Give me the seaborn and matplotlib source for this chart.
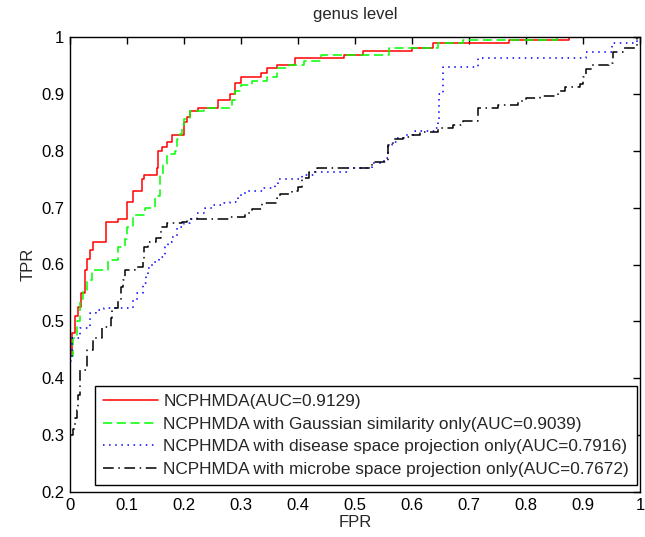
import matplotlib
matplotlib.use("Agg")
import matplotlib.pyplot as plt
import seaborn as sns
import pandas as pd

# ---- data (FPR at which TPR steps up to the given value) ----
red_fpr = [0.0, 0.004, 0.008, 0.014, 0.02, 0.026, 0.03, 0.035, 0.04, 0.063, 0.085, 0.1, 0.11,
           0.126, 0.13, 0.152, 0.155, 0.161, 0.17, 0.179, 0.2, 0.205, 0.21, 0.225, 0.26, 0.28,
           0.29, 0.3, 0.335, 0.345, 0.363, 0.395, 0.48, 0.514, 0.6, 0.637, 0.77, 0.875, 1.0]
red_tpr = [0.44, 0.48, 0.51, 0.525, 0.55, 0.59, 0.61, 0.625, 0.64, 0.675, 0.68, 0.71, 0.73,
           0.75, 0.757, 0.77, 0.80, 0.807, 0.815, 0.828, 0.85, 0.86, 0.87, 0.876, 0.89, 0.9,
           0.92, 0.93, 0.937, 0.945, 0.95, 0.963, 0.968, 0.975, 0.98, 0.99, 0.995, 1.0, 1.0]

green_fpr = [0.0, 0.005, 0.012, 0.017, 0.023, 0.03, 0.038, 0.067, 0.084, 0.096, 0.1, 0.11,
             0.132, 0.149, 0.158, 0.163, 0.17, 0.184, 0.188, 0.193, 0.196, 0.2, 0.21, 0.235,
             0.285, 0.29, 0.3, 0.32, 0.345, 0.363, 0.385, 0.41, 0.44, 0.56, 0.645, 0.69,
             0.855, 1.0]
green_tpr = [0.44, 0.47, 0.5, 0.54, 0.555, 0.573, 0.59, 0.608, 0.63, 0.645, 0.666, 0.687,
             0.70, 0.72, 0.76, 0.775, 0.795, 0.80, 0.82, 0.83, 0.845, 0.855, 0.87, 0.875,
             0.89, 0.905, 0.915, 0.923, 0.93, 0.945, 0.95, 0.958, 0.968, 0.98, 0.99, 0.995,
             1.0, 1.0]

blue_fpr = [0.0, 0.003, 0.017, 0.035, 0.045, 0.06, 0.11, 0.117, 0.128, 0.133, 0.137, 0.144,
            0.157, 0.167, 0.172, 0.179, 0.188, 0.2, 0.21, 0.222, 0.237, 0.25, 0.27, 0.28,
            0.295, 0.3, 0.31, 0.34, 0.36, 0.365, 0.407, 0.43, 0.486, 0.53, 0.55, 0.558,
            0.565, 0.574, 0.59, 0.605, 0.64, 0.645, 0.648, 0.654, 0.716, 0.905, 0.95, 0.995, 1.0]
blue_tpr = [0.43, 0.47, 0.488, 0.515, 0.52, 0.523, 0.537, 0.55, 0.567, 0.58, 0.594, 0.605,
            0.613, 0.63, 0.64, 0.648, 0.666, 0.673, 0.68, 0.69, 0.70, 0.705, 0.708, 0.71,
            0.72, 0.726, 0.73, 0.735, 0.74, 0.75, 0.757, 0.763, 0.77, 0.778, 0.788, 0.81,
            0.815, 0.822, 0.828, 0.835, 0.84, 0.855, 0.9, 0.947, 0.963, 0.974, 0.99, 1.0, 1.0]

black_fpr = [0.0, 0.005, 0.008, 0.012, 0.014, 0.017, 0.03, 0.04, 0.056, 0.072, 0.074, 0.084,
             0.09, 0.093, 0.096, 0.114, 0.128, 0.13, 0.137, 0.15, 0.16, 0.17, 0.196, 0.205,
             0.28, 0.307, 0.32, 0.337, 0.363, 0.368, 0.39, 0.4, 0.407, 0.42, 0.433, 0.53,
             0.558, 0.567, 0.585, 0.6, 0.614, 0.646, 0.672, 0.69, 0.716, 0.75, 0.786, 0.8,
             0.825, 0.856, 0.868, 0.895, 0.9, 0.906, 0.915, 0.945, 0.953, 0.97, 0.995, 1.0]
black_tpr = [0.30, 0.31, 0.33, 0.345, 0.37, 0.415, 0.45, 0.47, 0.49, 0.506, 0.523, 0.537,
             0.56, 0.573, 0.59, 0.595, 0.607, 0.63, 0.64, 0.647, 0.666, 0.673, 0.675, 0.68,
             0.683, 0.69, 0.697, 0.708, 0.717, 0.724, 0.73, 0.736, 0.752, 0.763, 0.77, 0.78,
             0.81, 0.82, 0.825, 0.828, 0.833, 0.84, 0.845, 0.853, 0.876, 0.88, 0.887, 0.893,
             0.897, 0.905, 0.912, 0.917, 0.93, 0.944, 0.95, 0.955, 0.974, 0.98, 1.0, 1.0]

labels = ["NCPHMDA(AUC=0.9129)",
          "NCPHMDA with Gaussian similarity only(AUC=0.9039)",
          "NCPHMDA with disease space projection only(AUC=0.7916)",
          "NCPHMDA with microbe space projection only(AUC=0.7672)"]
x_ticks = [0, 0.1, 0.2, 0.3, 0.4, 0.5, 0.6, 0.7, 0.8, 0.9, 1]
x_ticklabels = ["0", "0.1", "0.2", "0.3", "0.4", "0.5", "0.6", "0.7", "0.8", "0.9", "1"]
y_ticks = [0.2, 0.3, 0.4, 0.5, 0.6, 0.7, 0.8, 0.9, 1]
y_ticklabels = ["0.2", "0.3", "0.4", "0.5", "0.6", "0.7", "0.8", "0.9", "1"]

sns.set_style("white")
plt.rcParams["font.family"] = ["Liberation Sans", "DejaVu Sans"]

fig = plt.figure(figsize=(6.45, 5.37), dpi=100)
ax = fig.add_axes([70 / 645, 45 / 537, 570 / 645, 455 / 537])

series = [
    (red_fpr, red_tpr, "#ff0000", "-"),
    (green_fpr, green_tpr, "#00ff00", (0, (6, 3))),
    (blue_fpr, blue_tpr, "#0000ff", (0, (1, 3))),
    (black_fpr, black_tpr, "#000000", (0, (7, 3, 1, 3))),
]
for (fx, ty, col, ls), lab in zip(series, labels):
    df = pd.DataFrame({"FPR": fx, "TPR": ty})
    sns.lineplot(data=df, x="FPR", y="TPR", ax=ax, color=col, linestyle=ls,
                 drawstyle="steps-post", sort=False, estimator=None, linewidth=1.1,
                 label=lab)

ax.set_xlim(0, 1)
ax.set_ylim(0.2, 1)
ax.set_xticks(x_ticks)
ax.set_xticklabels(x_ticklabels)
ax.set_yticks(y_ticks)
ax.set_yticklabels(y_ticklabels)
ax.tick_params(direction="in", length=5, width=1, top=True, right=True,
               labelsize=12, colors="black", pad=4)
for s in ax.spines.values():
    s.set_color("black")
    s.set_linewidth(1)
    s.set_visible(True)

ax.set_xlabel("FPR", fontsize=12, labelpad=2)
ax.set_ylabel("TPR", fontsize=12, labelpad=4)
ax.set_title("genus level", fontsize=12, pad=13)

leg = ax.legend(loc="lower right", bbox_to_anchor=(0.9947, 0.0154), fontsize=12.4,
                frameon=True, fancybox=False, framealpha=1, edgecolor="black",
                handlelength=3.2, handletextpad=0.3, labelspacing=0.45, borderpad=0.45,
                borderaxespad=0)
leg.get_frame().set_linewidth(1)

fig.savefig("out.png", dpi=100, facecolor="white")
